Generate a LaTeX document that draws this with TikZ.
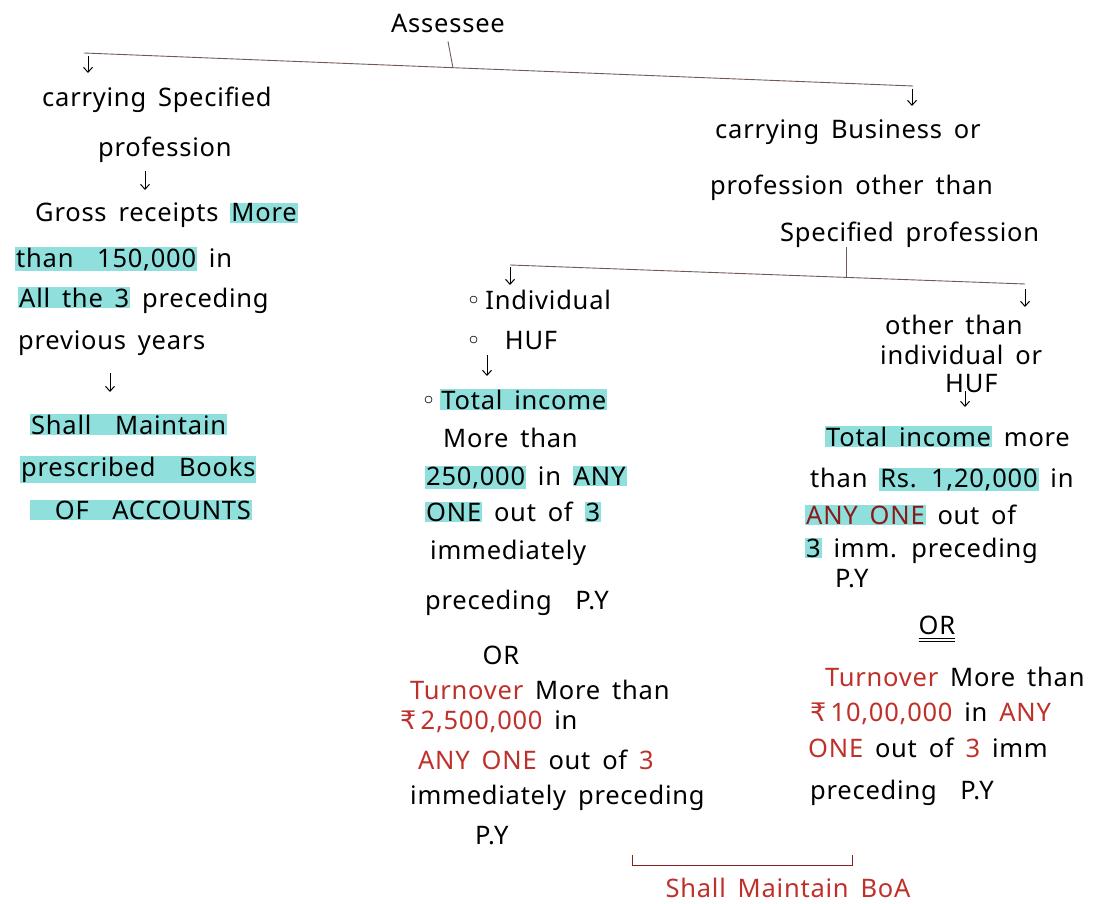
\documentclass[tikz,border=0pt]{standalone}
\usepackage{fontspec}
\setmainfont{Noto Sans}[LetterSpace=3.0, WordSpace=1.6]
\newfontfamily\symfont{DejaVu Sans}
\usetikzlibrary{arrows.meta}
\definecolor{hlc}{HTML}{8FE0DC}
\definecolor{redink}{HTML}{C0302A}
\definecolor{maroonink}{HTML}{8B1A1A}
\definecolor{lineink}{HTML}{6E5C54}
\newcommand\hl[1]{{\setlength{\fboxsep}{1pt}\colorbox{hlc}{#1}}}
\newcommand\rd[1]{\textcolor{redink}{#1}}
\newcommand\rup{{\symfont ₹}}
\newcommand\bul{{\symfont ◦}}
\begin{document}
\begin{tikzpicture}[x=1pt,y=-1pt,
  txt/.style={anchor=base west, inner sep=0pt, font=\fontsize{25.5}{30}\selectfont},
  ln/.style={draw=lineink, line width=0.9pt},
  arr/.style={draw=black, line width=1pt, -{Straight Barb[length=5pt,width=9pt]}},
  brk/.style={draw=redink!70!black, line width=1pt}]
\useasboundingbox (0,0) rectangle (1102,904);

% header
\node[txt, anchor=base] (ass) at (448,33) {Assessee};
\coordinate (mL) at (84,53);
\coordinate (mR) at (913,86);
\coordinate (mJ) at (453,68);
\draw[ln] (mL) -- (mR);
\draw[ln] ([yshift=-8pt]ass.south) -- (mJ);
\coordinate (a1s) at (88,56); \coordinate (a1e) at (88,73);
\draw[arr] (a1s) -- (a1e);
\coordinate (a2s) at (912,89); \coordinate (a2e) at (912,106);
\draw[arr] (a2s) -- (a2e);

% left branch
\node[txt] (s1) at (42,107) {carrying Specified};
\node[txt] (s2) at (98,157) {profession};
\coordinate (a3s) at (145,171); \coordinate (a3e) at (145,190);
\draw[arr] (a3s) -- (a3e);
\node[txt] (g1) at (35,222) {Gross receipts \hl{More}};
\node[txt] (g2) at (15,267) {\hl{than~~150,000} in};
\node[txt] (g3) at (18,307) {\hl{All the 3} preceding};
\node[txt] (g4) at (18,349) {previous years};
\coordinate (a4s) at (110,373); \coordinate (a4e) at (110,392);
\draw[arr] (a4s) -- (a4e);
\node[txt] (b1) at (30,434) {\hl{Shall~~Maintain}};
\node[txt] (b2) at (20,476) {\hl{prescribed~~Books}};
\node[txt] (b3) at (30,519) {\hl{~~OF~~ACCOUNTS}};

% right branch top
\node[txt] (r1) at (715,139) {carrying Business or};
\node[txt] (r2) at (710,194) {profession other than};
\node[txt] (r3) at (780,241) {Specified profession};
\coordinate (m2L) at (510,265);
\coordinate (m2R) at (1025,284);
\coordinate (j2) at (846,277);
\draw[ln] (m2L) -- (m2R);
\draw[ln] (r3.south -| j2) -- (j2);
\coordinate (a5s) at (510,267); \coordinate (a5e) at (510,285);
\draw[arr] (a5s) -- (a5e);
\coordinate (a6s) at (1025,289); \coordinate (a6e) at (1025,307);
\draw[arr] (a6s) -- (a6e);

% individual / HUF
\node[txt] (i1) at (466,309) {\bul\,Individual};
\node[txt] (i2) at (466,349) {\bul~~HUF};
\coordinate (a7s) at (487,355); \coordinate (a7e) at (487,376);
\draw[arr] (a7s) -- (a7e);
\node[txt] (t1) at (421,409) {\bul\,\hl{Total income}};
\node[txt] (t2) at (443,447) {More than};
\node[txt] (t3) at (425,485) {\hl{250,000} in \hl{ANY}};
\node[txt] (t4) at (425,521) {\hl{ONE} out of \hl{3}};
\node[txt] (t5) at (430,559) {immediately};
\node[txt] (t6) at (425,609) {preceding~~P.Y};
\node[txt, anchor=base] (or1) at (501,664) {OR};
\node[txt] (u1) at (410,699) {\rd{Turnover} More than};
\node[txt] (u2) at (400,729) {\rd{\rup\,2,500,000} in};
\node[txt] (u3) at (418,769) {\rd{ANY ONE} out of \rd{3}};
\node[txt] (u4) at (410,804) {immediately preceding};
\node[txt] (u5) at (475,844) {P.Y};

% other than individual
\node[txt] (o1) at (885,334) {other than};
\node[txt] (o2) at (880,364) {individual or};
\node[txt] (o3) at (945,392) {HUF};
\coordinate (a8s) at (965,391); \coordinate (a8e) at (965,407);
\draw[arr] (a8s) -- (a8e);
\node[txt] (v1) at (825,446) {\hl{Total income} more};
\node[txt] (v2) at (810,487) {than \hl{Rs. 1,20,000} in};
\node[txt] (v3) at (805,524) {\hl{\textcolor{maroonink}{ANY ONE}} out of};
\node[txt] (v4) at (805,557) {\hl{3} imm. preceding};
\node[txt] (v5) at (835,587) {P.Y};
\node[txt, anchor=base] (or2) at (937,634) {OR};
\draw[line width=0.9pt] ([yshift=-4pt]or2.south west) -- ([yshift=-4pt]or2.south east);
\draw[line width=0.9pt] ([yshift=-7pt]or2.south west) -- ([yshift=-7pt]or2.south east);
\node[txt] (w1) at (825,686) {\rd{Turnover} More than};
\node[txt] (w2) at (810,721) {\rd{\rup\,10,00,000} in \rd{ANY}};
\node[txt] (w3) at (808,757) {\rd{ONE} out of \rd{3} imm};
\node[txt] (w4) at (810,799) {preceding~~P.Y};

% bracket
\coordinate (bL) at (632,855);
\coordinate (bL2) at (632,865);
\coordinate (bR2) at (852,865);
\coordinate (bR) at (852,855);
\draw[brk] (bL) -- (bL2) -- (bR2) -- (bR);
\node[txt, anchor=base] (boa) at (788,897) {\rd{Shall Maintain BoA}};
\end{tikzpicture}
\end{document}
